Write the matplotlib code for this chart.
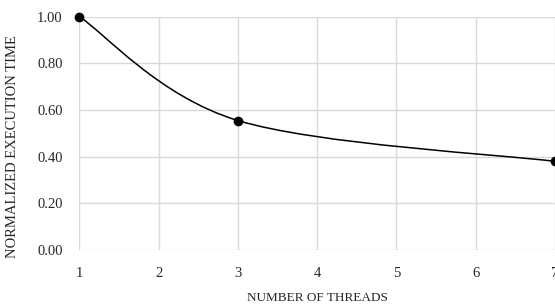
import numpy as np
import matplotlib.pyplot as plt
from matplotlib.path import Path
from matplotlib.patches import PathPatch

THREADS = [1, 3, 7]
NORM_TIME = [1.00, 0.555, 0.38]
X_TICKS = [1, 2, 3, 4, 5, 6, 7]
Y_TICKS = [0.0, 0.2, 0.4, 0.6, 0.8, 1.0]

plt.rcParams['font.family'] = ['Liberation Serif', 'DejaVu Serif']


def smooth_path(xs, ys, k=1 / 6):
    # excel-like smoothed line: cubic bezier segments through the points
    pts = np.column_stack([xs, ys]).astype(float)
    n = len(pts)
    verts = [pts[0]]
    codes = [Path.MOVETO]
    for i in range(n - 1):
        p_prev = pts[i - 1] if i > 0 else pts[i]
        p_next = pts[i + 2] if i + 2 < n else pts[i + 1]
        c1 = pts[i] + (pts[i + 1] - p_prev) * k
        c2 = pts[i + 1] - (p_next - pts[i]) * k
        verts += [c1, c2, pts[i + 1]]
        codes += [Path.CURVE4] * 3
    return Path(verts, codes)


fig = plt.figure(figsize=(5.55, 3.08), dpi=100)
ax = fig.add_axes([0.143, 0.188, 0.857, 0.758])

ax.add_patch(PathPatch(smooth_path(THREADS, NORM_TIME), facecolor='none',
                       edgecolor='black', lw=1.1, zorder=3))
ax.plot(THREADS, NORM_TIME, 'o', color='black', ms=6, zorder=4, clip_on=False)

ax.set_xlim(1, 7)
ax.set_ylim(0, 1.0)
ax.set_xticks(X_TICKS)
ax.set_yticks(Y_TICKS)
ax.set_yticklabels([f"{v:.2f}" for v in Y_TICKS])
ax.grid(True, color='#d9d9d9', lw=1.0)
ax.set_axisbelow(True)
for s in ax.spines.values():
    s.set_visible(False)
ax.tick_params(length=0, labelsize=10.5, colors='#262626', pad=12)

ax.set_xlabel("NUMBER OF THREADS", fontsize=9.5, color='#262626', labelpad=9)
ax.set_ylabel("NORMALIZED EXECUTION TIME", fontsize=10.5, color='#262626')
ax.yaxis.set_label_coords(-0.127, 0.445)

fig.savefig("out.png", dpi=100)
